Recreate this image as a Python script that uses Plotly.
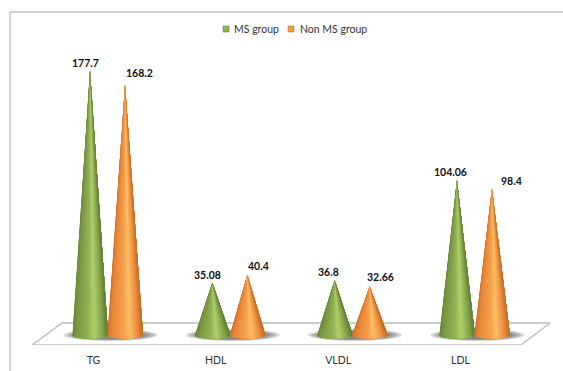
import numpy as np
import plotly.graph_objects as go

categories = ["TG", "HDL", "VLDL", "LDL"]
ms_group = [177.7, 35.08, 36.8, 104.06]
non_ms_group = [168.2, 40.4, 32.66, 98.4]
ms_label_text = ["177.7", "35.08", "36.8", "104.06"]
non_ms_label_text = ["168.2", "40.4", "32.66", "98.4"]
series_names = ["MS group", "Non MS group"]

W, H = 563, 371
PLOT_L, PLOT_R, PLOT_T, PLOT_B = 10, 563, 12, 345
PX_PER_CAT = 122.3
CAT0_PX = 107.5
PX_PER_UNIT = 1.486
BASE_PX = 335.0
TICK_SHIFT = 14 / PX_PER_CAT

xmin = (PLOT_L - CAT0_PX) / PX_PER_CAT
xmax = (PLOT_R - CAT0_PX) / PX_PER_CAT
ymin = (BASE_PX - PLOT_B) / PX_PER_UNIT
ymax = (BASE_PX - PLOT_T) / PX_PER_UNIT

OFFSET = 17.5 / PX_PER_CAT
HALF_W = 18.0 / PX_PER_CAT
ELL_H = 3.6 / PX_PER_UNIT

# colour stops across a cone, left edge to right edge
GREEN = [(0.0, (108, 136, 60)), (0.12, (122, 152, 68)), (0.45, (146, 180, 84)), (0.62, (176, 208, 108)),
         (0.85, (132, 164, 74)), (1.0, (98, 124, 54))]
ORANGE = [(0.0, (206, 116, 44)), (0.12, (232, 134, 56)), (0.45, (246, 160, 76)), (0.62, (254, 190, 104)),
          (0.85, (236, 142, 60)), (1.0, (196, 106, 40))]


def shade(stops, t):
    ps = [s[0] for s in stops]
    rgb = [np.interp(t, ps, [s[1][i] for s in stops]) for i in range(3)]
    return "rgb(%d,%d,%d)" % tuple(int(round(c)) for c in rgb)


fig = go.Figure()

# floor of the 3D chart
floor_front = ymin
floor_back = (BASE_PX - 323) / PX_PER_UNIT
fl = (32 - CAT0_PX) / PX_PER_CAT
fr = (521 - CAT0_PX) / PX_PER_CAT
bl = (62 - CAT0_PX) / PX_PER_CAT
br = (550 - CAT0_PX) / PX_PER_CAT
fig.add_trace(go.Scatter(
    x=[fl, fr, br, bl, fl], y=[floor_front, floor_front, floor_back, floor_back, floor_front],
    mode="lines", line=dict(color="#bdbdbd", width=1.4), fill="toself", fillcolor="#ffffff",
    hoverinfo="skip", showlegend=False, cliponaxis=False,
))


def add_shadow(xc):
    # soft contact shadow made of stacked translucent ellipses
    th = np.linspace(0, 2 * np.pi, 60)
    sx = 47 / PX_PER_CAT
    sy = 6.0 / PX_PER_UNIT
    for scale in (1.0, 0.93, 0.86, 0.79, 0.72):
        fig.add_trace(go.Scatter(
            x=xc + 3 / PX_PER_CAT + sx * scale * np.cos(th),
            y=sy * scale * np.sin(th),
            mode="lines", line=dict(width=0), fill="toself",
            fillcolor="rgba(95,95,95,0.24)", hoverinfo="skip", showlegend=False,
        ))


def add_cone(xc, value, stops):
    # nested fans painted left to right, so neighbouring slices leave no seams
    n = 40
    phis = np.linspace(np.pi, 2 * np.pi, n + 1)
    for i in range(n):
        arc = phis[i:]
        t = (np.cos((phis[i] + phis[i + 1]) / 2) + 1) / 2
        col = shade(stops, t)
        fig.add_trace(go.Scatter(
            x=np.concatenate(([xc], xc + HALF_W * np.cos(arc), [xc])),
            y=np.concatenate(([value], ELL_H * np.sin(arc), [value])),
            mode="lines", line=dict(width=0), fill="toself", fillcolor=col,
            hoverinfo="skip", showlegend=False,
        ))


for i in range(len(categories)):
    add_shadow(i)
for i in range(len(categories)):
    add_cone(i - OFFSET, ms_group[i], GREEN)
    add_cone(i + OFFSET, non_ms_group[i], ORANGE)

# value labels: pixel nudges per label (dx, dy above apex)
ms_nudge = [(-5, 8), (-5, 8), (-6, 8), (-6, 8)]
non_nudge = [(14, 12), (11, 9), (11, 9.5), (20, 8)]
for i in range(len(categories)):
    for xc, v, txt, (dx, dy) in ((i - OFFSET, ms_group[i], ms_label_text[i], ms_nudge[i]),
                                 (i + OFFSET, non_ms_group[i], non_ms_label_text[i], non_nudge[i])):
        fig.add_annotation(x=xc, y=v, text=txt, showarrow=False, xshift=dx, yshift=dy,
                           font=dict(family="Lato", size=10.5, color="#111111", weight="bold"))


def px_x(px):
    return (px - PLOT_L) / (PLOT_R - PLOT_L)


def px_y(px):
    return (PLOT_B - px) / (PLOT_B - PLOT_T)


# legend: swatch and label pairs along the top of the chart
legend_items = [(series_names[0], 226, 233, "#8fb04e", "#6f8c3a"),
                (series_names[1], 291, 299, "#ee9a48", "#c9782e")]
legend_shapes = []
for name, swatch_px, text_px, fill, edge in legend_items:
    legend_shapes.append(dict(type="rect", xref="paper", yref="paper",
                              x0=px_x(swatch_px - 3), x1=px_x(swatch_px + 3),
                              y0=px_y(32), y1=px_y(26), fillcolor=fill, line=dict(color=edge, width=0.6)))
    fig.add_annotation(xref="paper", yref="paper", x=px_x(text_px), y=px_y(29), text=name,
                       showarrow=False, xanchor="left", yanchor="middle", xshift=-1,
                       font=dict(family="Lato", size=10.5, color="#333333"))

axis_color = "#a3a3a3"
fig.update_layout(
    width=W, height=H, autosize=False, showlegend=False,
    margin=dict(l=PLOT_L, r=W - PLOT_R, t=PLOT_T, b=H - PLOT_B),
    paper_bgcolor="white", plot_bgcolor="white",
    font=dict(family="Lato", size=10.5, color="#333333"),
    xaxis=dict(range=[xmin, xmax], tickmode="array",
               tickvals=[i - TICK_SHIFT for i in range(len(categories))],
               ticktext=categories, ticks="outside", ticklen=5, tickcolor="rgba(0,0,0,0)",
               showgrid=False, zeroline=False, showline=False, fixedrange=True),
    yaxis=dict(range=[ymin, ymax], visible=False, fixedrange=True),
    shapes=legend_shapes + [
        dict(type="line", xref="paper", yref="paper", x0=0, x1=1, y0=1, y1=1,
             line=dict(color=axis_color, width=1)),
        dict(type="line", xref="paper", yref="paper", x0=0, x1=0, y0=1, y1=-26 / (PLOT_B - PLOT_T),
             line=dict(color=axis_color, width=1)),
    ],
)

fig.write_html("out.html")
